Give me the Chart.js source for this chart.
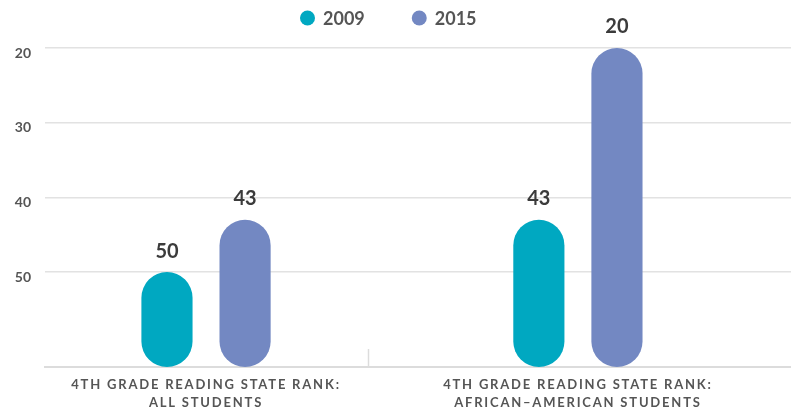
<!DOCTYPE html>
<html lang="en">
<head>
  <title>4th Grade Reading State Rank</title>
  <script src="https://cdn.jsdelivr.net/npm/chart.js@4.4.3/dist/chart.umd.min.js"></script>
  <style>
    html, body { margin: 0; padding: 0; background: #fff; }
    .chart-box { width: 791px; height: 409px; }
  </style>
</head>
<body>
  <div class="chart-box">
    <canvas id="rankChart"></canvas>
  </div>

  <script>
    // data
    const categories = [
      ["4TH GRADE READING STATE RANK:", "ALL STUDENTS"],
      ["4TH GRADE READING STATE RANK:", "AFRICAN\u2013AMERICAN STUDENTS"]
    ];
    const seriesNames = ["2009", "2015"];
    const rank2009 = [50, 43];
    const rank2015 = [43, 20];
    const rankTicks = [20, 30, 40, 50];

    const colors = ["#00a8c1", "#7388c2"];
    const RANK_TOP = 20;
    const RANK_BOTTOM = 62.7;
    const DIVIDER_AT = 0.435; // small separator mark between the two groups (x scale units)
    const FONT = 'Lato, "Open Sans", sans-serif';

    (function() {
      const seriesValues = [rank2009, rank2015];

      // value labels above bars; also turns on letter spacing for the x labels (ticks.z = 1, drawn after)
      const valueLabels = {
        id: 'valueLabels',
        afterDatasetsDraw(chart) {
          const ctx = chart.ctx;
          ctx.save();
          ctx.font = '700 20px ' + FONT;
          ctx.fillStyle = '#3b3b3b';
          ctx.textAlign = 'center';
          ctx.textBaseline = 'middle';
          chart.data.datasets.forEach((ds, i) => {
            chart.getDatasetMeta(i).data.forEach((bar, j) => {
              ctx.fillText(String(ds.data[j].y), bar.x, bar.y - 21);
            });
          });
          ctx.restore();
          ctx.letterSpacing = '1.8px';
        },
        afterDraw(chart) {
          chart.ctx.letterSpacing = '0px';
        }
      };

      // legend drawn by hand (circle + year) and the short group divider
      const dotLegend = {
        id: 'dotLegend',
        afterDraw(chart) {
          const ctx = chart.ctx;
          ctx.save();
          ctx.font = '700 18px ' + FONT;
          ctx.textBaseline = 'middle';
          ctx.textAlign = 'left';
          let x = 300;
          const y = 18;
          chart.data.datasets.forEach(ds => {
            ctx.fillStyle = ds.backgroundColor;
            ctx.beginPath();
            ctx.arc(x + 7.5, y, 7.5, 0, Math.PI * 2);
            ctx.fill();
            ctx.fillStyle = '#555';
            ctx.fillText(ds.label, x + 23, y + 1);
            x += 23 + ctx.measureText(ds.label).width + 47;
          });

          const xs = chart.scales.x;
          const dx = Math.round(xs.getPixelForValue(DIVIDER_AT)) + 0.5;
          const bottom = chart.chartArea.bottom;
          ctx.strokeStyle = '#dcdcdc';
          ctx.lineWidth = 1.5;
          ctx.beginPath();
          ctx.moveTo(dx, bottom - 18);
          ctx.lineTo(dx, bottom);
          ctx.stroke();
          ctx.restore();
        }
      };

      const datasets = seriesNames.map((name, i) => ({
        label: name,
        data: seriesValues[i].map((v, j) => ({ x: j, y: v })),
        backgroundColor: colors[i],
        borderWidth: 0,
        borderRadius: 40,
        borderSkipped: false,
        base: RANK_BOTTOM,
        categoryPercentage: 0.42,
        barPercentage: 0.655
      }));

      new Chart(document.getElementById('rankChart'), {
        type: 'bar',
        data: { datasets: datasets },
        plugins: [valueLabels, dotLegend],
        options: {
          responsive: true,
          maintainAspectRatio: false,
          animation: false,
          layout: { padding: { top: 48, right: 0, bottom: 0, left: 0 } },
          plugins: {
            tooltip: { enabled: false },
            legend: { display: false }
          },
          scales: {
            x: {
              type: 'linear',
              offset: false,
              min: -0.433,
              max: 1.573,
              afterBuildTicks: (scale) => { scale.ticks = categories.map((c, i) => ({ value: i })); },
              afterFit: (scale) => { scale.height = 42; },
              grid: { display: false, offset: false },
              border: { display: true, color: '#dcdcdc', width: 2 },
              ticks: {
                z: 1,
                autoSkip: false,
                maxRotation: 0,
                padding: 1,
                color: '#555',
                font: { family: FONT, size: 13, weight: '700', lineHeight: 1.38 },
                callback: (value) => categories[value] || ''
              }
            },
            y: {
              reverse: true,
              min: RANK_TOP,
              max: RANK_BOTTOM,
              afterBuildTicks: (scale) => { scale.ticks = rankTicks.map(v => ({ value: v })); },
              afterFit: (scale) => { scale.width = 45; },
              border: { display: false },
              grid: { color: '#e2e2e2', lineWidth: 1.5, drawTicks: false },
              ticks: {
                padding: 14,
                labelOffset: 5,
                color: '#555',
                font: { family: FONT, size: 14, weight: '700' }
              }
            }
          }
        }
      });
    })();
  </script>
</body>
</html>
